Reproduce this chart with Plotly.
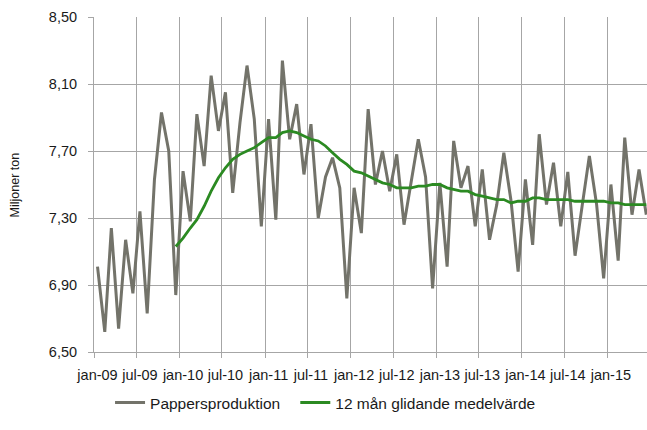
import pandas as pd
import plotly.graph_objects as go

# Monthly paper production, million tonnes (jan-09 .. jun-15)
months = pd.date_range("2009-01-01", periods=78, freq="MS") + pd.Timedelta(days=15)

produktion = [
    7.01, 6.62, 7.24, 6.64, 7.17, 6.85, 7.34, 6.73, 7.53, 7.93, 7.70, 6.84,   # 2009
    7.58, 7.28, 7.92, 7.61, 8.15, 7.82, 8.05, 7.45, 7.87, 8.21, 7.89, 7.25,   # 2010
    7.89, 7.29, 8.24, 7.77, 7.98, 7.56, 7.86, 7.30, 7.545, 7.66, 7.48, 6.82,  # 2011
    7.48, 7.21, 7.95, 7.50, 7.70, 7.46, 7.68, 7.26, 7.52, 7.77, 7.545, 6.88,  # 2012
    7.51, 7.01, 7.76, 7.48, 7.61, 7.25, 7.59, 7.17, 7.38, 7.69, 7.40, 6.98,   # 2013
    7.53, 7.14, 7.80, 7.38, 7.63, 7.25, 7.575, 7.075, 7.38, 7.67, 7.38, 6.94, # 2014
    7.50, 7.045, 7.78, 7.32, 7.59, 7.32,                                      # 2015
]

# 12-month moving average (first value in dec-09)
medel = [None] * 11 + [
    7.13, 7.18, 7.24, 7.29, 7.37, 7.46, 7.54, 7.60, 7.65, 7.68, 7.70, 7.72,
    7.75, 7.78, 7.78, 7.81, 7.82, 7.81, 7.79, 7.77, 7.76, 7.73, 7.69, 7.65,
    7.62, 7.58, 7.57, 7.55, 7.53, 7.51, 7.50, 7.48, 7.48, 7.48, 7.49, 7.49,
    7.50, 7.50, 7.48, 7.47, 7.46, 7.46, 7.44, 7.43, 7.42, 7.41, 7.41, 7.39,
    7.40, 7.40, 7.42, 7.42, 7.41, 7.41, 7.41, 7.41, 7.40, 7.40, 7.40, 7.40,
    7.40, 7.39, 7.39, 7.38, 7.38, 7.38, 7.38,
]

tick_labels = ["jan-09", "jul-09", "jan-10", "jul-10", "jan-11", "jul-11", "jan-12",
               "jul-12", "jan-13", "jul-13", "jan-14", "jul-14", "jan-15"]
tick_pos = pd.date_range("2009-01-01", periods=len(tick_labels), freq="6MS") + pd.Timedelta(days=15)

FONT = "Liberation Sans, Arial, sans-serif"
GRID = "#a6a6a6"
TEXT = "#1a1a1a"

fig = go.Figure()
fig.add_trace(go.Scatter(
    x=months, y=produktion, name="Pappersproduktion", mode="lines",
    line=dict(color="#73736a", width=3), legend="legend",
))
fig.add_trace(go.Scatter(
    x=months, y=medel, name="12 mån glidande medelvärde", mode="lines",
    line=dict(color="#2b8a22", width=2.8), legend="legend2",
))

legend_style = dict(
    orientation="h", xanchor="left", y=-0.152, yanchor="middle",
    itemwidth=30, font=dict(size=15.5, color=TEXT), bgcolor="rgba(0,0,0,0)",
)

fig.update_layout(
    width=647, height=430,
    margin=dict(l=94, r=0, t=17, b=78),
    paper_bgcolor="white", plot_bgcolor="white",
    separators=", ",
    font=dict(family=FONT, size=14.5, color=TEXT),
    showlegend=True,
    legend=dict(x=0.029, **legend_style),
    legend2=dict(x=0.364, **legend_style),
    annotations=[dict(
        text="Miljoner ton", textangle=-90, xref="paper", yref="paper",
        x=-0.143, y=0.5, xanchor="center", yanchor="middle", showarrow=False,
        font=dict(size=12.5, color=TEXT),
    )],
)

fig.update_xaxes(
    range=["2009-01-01", "2015-06-19"],
    tickmode="array", tickvals=tick_pos, ticktext=tick_labels,
    ticks="", showgrid=False, ticklabelstandoff=10,
    showline=True, linecolor=GRID, linewidth=1,
    minor=dict(tick0="2009-01-01", dtick="M6", ticks="outside", ticklen=5,
               tickcolor=GRID, showgrid=True, gridcolor=GRID, gridwidth=1),
    tickfont=dict(size=14.5),
)
fig.update_yaxes(
    range=[6.5, 8.5], tickmode="linear", tick0=6.5, dtick=0.4, tickformat=".2f",
    ticks="outside", ticklen=5, tickcolor=GRID, ticklabelstandoff=8,
    showgrid=True, gridcolor=GRID, gridwidth=1,
    showline=True, linecolor=GRID, linewidth=1, zeroline=False,
    tickfont=dict(size=14.5),
)

fig.write_html("out.html")
